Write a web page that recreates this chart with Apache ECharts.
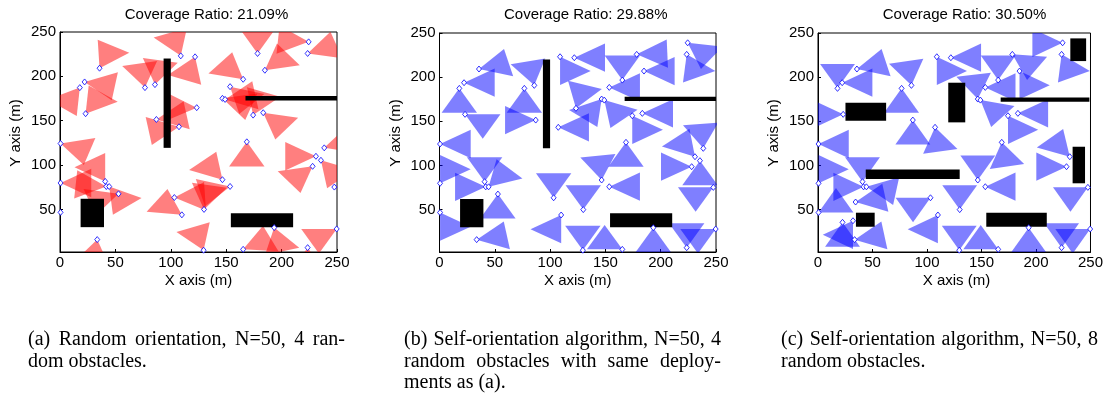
<!DOCTYPE html>
<html>
<head>
<meta charset="utf-8">
<script src="https://cdn.jsdelivr.net/npm/echarts@6/dist/echarts.min.js"></script>
<style>
html, body { margin: 0; padding: 0; background: #fff; }
#main { width: 1106px; height: 396px; }
</style>
</head>
<body>
<div id="main"></div>
<script>
// sensor deployment shared by (a) and (b), metres
var sensorX = [35.7, 22.2, 17.9, 23.1, 76.7, 85.7, 87.0, 107.4, 0.5, 40.8,
               41.8, 44.4, 0.5, 0.5, 33.6, 52.8, 103.2, 110.0, 109.0, 121.9,
               123.4, 165.3, 178.3, 184.9, 224.4, 223.5, 153.5, 146.6, 149.0, 174.3,
               183.4, 168.6, 146.6, 153.5, 130.0, 238.5, 231.0, 235.5, 228.0, 247.6,
               193.3, 165.3, 129.6, 223.5, 249.7];
var sensorY = [209.2, 193.7, 187.3, 157.9, 187.3, 190.7, 151.4, 143.2, 124.3, 81.6,
               75.8, 75.8, 79.8, 46.7, 16.0, 67.6, 63.4, 43.9, 223.1, 222.0,
               164.7, 196.7, 225.8, 206.9, 238.9, 225.8, 188.4, 175.2, 174.0, 156.3,
               159.0, 126.2, 83.5, 75.9, 50.0, 119.4, 109.9, 105.4, 98.6, 75.2,
               29.5, 5.0, 4.0, 6.9, 28.0];
// orientation (deg) in (a) random, (b) self-orientation
var angleA = [63, -10, -125, 55, 100, 80, 10, -170, -19, 120,
              175, -54, 0, 180, -100, -160, 3, 144, 110, -110,
              178, 138, 90, 40, 175, 20, -45, -20, 10, 70,
              -40, -90, 130, -165, 80, 20, 180, -50, -140, 0,
              -75, 26, 110, -90, -150];
var angleB = [15, 0, -90, -30, -90, 102, 180, 0, 0, 90,
              180, 47, 60, -60, 10, -90, 90, -120, -60, 0,
              73, 90, 2, 0, -38, -66, 0, -127, -50, -60,
              0, -90, 97, 0, 90, 95, 129, -90, 180, -150,
              -90, 150, 90, 90, -150];

// deployment (c), 8 obstacles
var sensorCX = [35.7, 22.2, 17.9, 23.1, 76.7, 85.7, 87.0, 107.4, 0.5, 40.8,
                41.8, 44.4, 0.5, 0.5, 33.6, 103.2, 110.0, 109.0, 121.9, 165.3,
                178.3, 184.9, 224.4, 223.5, 153.5, 146.6, 149.0, 174.3, 183.4, 168.6,
                146.6, 153.5, 130.0, 231.0, 228.0, 247.6, 193.3, 165.3, 129.6, 223.5,
                249.7, 34.5, 32.1, 22.5];
var sensorCY = [209.2, 193.7, 187.3, 157.9, 187.3, 190.7, 151.4, 143.2, 124.3, 81.6,
                75.8, 75.8, 79.8, 46.7, 16.0, 63.4, 43.9, 223.1, 222.0, 196.7,
                225.8, 206.9, 238.9, 225.8, 188.4, 175.2, 174.0, 156.3, 159.0, 126.2,
                83.5, 75.9, 50.0, 109.9, 98.6, 75.2, 29.5, 5.0, 4.0, 6.9,
                28.0, 58.6, 37.4, 35.6];
var angleC = [15, 0, 90, 180, -90, 100, -90, -80, 0, 90,
              180, -10, 60, 30, 10, -150, -120, -60, 0, 90,
              -35, -60, 180, -66, 0, 98, -42, -60, 0, -80,
              90, 0, 90, 131, 180, -150, -90, 150, 90, 90,
              -150, 10, -120, -90];

// obstacles [x0, y0, x1, y1]
var obstaclesAB = [[93.5, 119.4, 100, 220.1], [167.4, 172.9, 250, 177.8],
                   [18.6, 30, 39.7, 62], [154.2, 30, 210.4, 45.8]];
var obstaclesC = [[231.5, 218.2, 246, 243.9], [25.2, 150.6, 62.5, 171],
                  [119.5, 148.8, 135.1, 193.7], [167.6, 172.1, 249, 177],
                  [233.6, 79.8, 245, 121.2], [43.8, 84.6, 130, 95.5],
                  [34.8, 30.6, 52, 46.5], [154.4, 30.6, 209.9, 46.5]];

var titles = ['Coverage Ratio: 21.09%', 'Coverage Ratio: 29.88%', 'Coverage Ratio: 30.50%'];
var xTicks = [0, 50, 100, 150, 200, 250];
var yTicks = [50, 100, 150, 200, 250];
var captions = [
    ['(a) Random orientation, N=50, 4 ran-', 'dom obstacles.'],
    ['(b) Self-orientation algorithm, N=50, 4', 'random obstacles with same deploy-', 'ments as (a).'],
    ['(c) Self-orientation algorithm, N=50, 8', 'random obstacles.']
];

var RANGE = 32;              // sensing radius
var HALF = Math.PI / 6;      // half of field of view

var grids = [
    {left: 60, top: 32, width: 277, height: 220},
    {left: 439.5, top: 33, width: 276.5, height: 219},
    {left: 818, top: 33, width: 277, height: 219}
];
var labelFont = 'Liberation Sans, Arial, sans-serif';

var myChart = echarts.init(document.getElementById('main'));

function sensorSeries(i, xs, ys, angles, color) {
    return {
        type: 'custom',
        xAxisIndex: i,
        yAxisIndex: i,
        clip: true,
        z: 1,
        data: xs.map(function (x, k) { return [x, ys[k], angles[k]]; }),
        renderItem: function (params, api) {
            var x = api.value(0), y = api.value(1);
            var a = api.value(2) * Math.PI / 180;
            var p0 = api.coord([x, y]);
            var p1 = api.coord([x + RANGE * Math.cos(a - HALF), y + RANGE * Math.sin(a - HALF)]);
            var p2 = api.coord([x + RANGE * Math.cos(a + HALF), y + RANGE * Math.sin(a + HALF)]);
            return {
                type: 'polygon',
                shape: {points: [p0, p1, p2]},
                style: {fill: color}
            };
        }
    };
}

function obstacleSeries(i, list) {
    return {
        type: 'custom',
        xAxisIndex: i,
        yAxisIndex: i,
        clip: true,
        z: 2,
        data: list,
        renderItem: function (params, api) {
            var a = api.coord([api.value(0), api.value(3)]);
            var b = api.coord([api.value(2), api.value(1)]);
            return {
                type: 'rect',
                shape: {x: a[0], y: a[1], width: b[0] - a[0], height: b[1] - a[1]},
                style: {fill: '#000'}
            };
        }
    };
}

function markerSeries(i, xs, ys) {
    return {
        type: 'scatter',
        xAxisIndex: i,
        yAxisIndex: i,
        z: 3,
        symbol: 'diamond',
        symbolSize: [5, 6],
        itemStyle: {color: '#fff', borderColor: '#0000ff', borderWidth: 0.8, opacity: 1},
        data: xs.map(function (x, k) { return [x, ys[k]]; })
    };
}

var xAxes = [], yAxes = [];
grids.forEach(function (g, i) {
    xAxes.push({
        gridIndex: i, type: 'value', min: 0, max: 250, interval: 50,
        axisLine: {show: true, onZero: false, lineStyle: {color: '#000', width: 1}},
        axisTick: {show: true, inside: true, length: 3, lineStyle: {color: '#000'}},
        axisLabel: {color: '#000', fontSize: 15, fontFamily: labelFont, margin: 3,
                    customValues: xTicks},
        splitLine: {show: false}
    });
    yAxes.push({
        gridIndex: i, type: 'value', min: 2, max: 250,
        axisLine: {show: true, onZero: false, lineStyle: {color: '#000', width: 1}},
        axisTick: {show: true, inside: true, length: 3, lineStyle: {color: '#000'},
                   customValues: yTicks},
        axisLabel: {color: '#000', fontSize: 15, fontFamily: labelFont, margin: 4,
                    customValues: yTicks},
        splitLine: {show: false}
    });
});

var graphics = [];
grids.forEach(function (g, i) {
    graphics.push({
        type: 'text', x: g.left + g.width / 2 + 8, y: 15,
        style: {text: titles[i], font: '15px ' + labelFont, fill: '#000',
                textAlign: 'center', textVerticalAlign: 'middle'}
    });
    graphics.push({
        type: 'text', x: g.left + g.width / 2, y: 281,
        style: {text: 'X axis (m)', font: '15px ' + labelFont, fill: '#000',
                textAlign: 'center', textVerticalAlign: 'middle'}
    });
    graphics.push({
        type: 'text', x: g.left - 44, y: 133, rotation: Math.PI / 2,
        style: {text: 'Y axis (m)', font: '15px ' + labelFont, fill: '#000',
                textAlign: 'center', textVerticalAlign: 'middle'}
    });
});

// captions, justified like the paper
var capFont = '20px "Liberation Serif", "Times New Roman", serif';
var capLeft = [28, 404, 781];
var capWidth = [317, 317, 317];
var capY = [340, 361.5, 383];
var ctx = document.createElement('canvas').getContext('2d');
ctx.font = capFont;
var spaceW = ctx.measureText(' ').width;
captions.forEach(function (lines, c) {
    lines.forEach(function (line, li) {
        var words = line.split(' ');
        var widths = words.map(function (w) { return ctx.measureText(w).width; });
        var total = widths.reduce(function (s, w) { return s + w; }, 0);
        var last = li === lines.length - 1;
        var gap = (!last && words.length > 1) ? (capWidth[c] - total) / (words.length - 1) : spaceW;
        var x = capLeft[c];
        words.forEach(function (w, k) {
            graphics.push({
                type: 'text', x: x, y: capY[li],
                style: {text: w, font: capFont, fill: '#000',
                        textAlign: 'left', textVerticalAlign: 'middle'}
            });
            x += widths[k] + gap;
        });
    });
});

var option = {
    animation: false,
    grid: grids.map(function (g) {
        return {left: g.left, top: g.top, width: g.width, height: g.height,
                show: true, borderColor: '#000', borderWidth: 1, backgroundColor: '#fff'};
    }),
    xAxis: xAxes,
    yAxis: yAxes,
    graphic: graphics,
    series: [
        sensorSeries(0, sensorX, sensorY, angleA, 'rgba(255,0,0,0.5)'),
        obstacleSeries(0, obstaclesAB),
        markerSeries(0, sensorX, sensorY),
        sensorSeries(1, sensorX, sensorY, angleB, 'rgba(0,0,255,0.5)'),
        obstacleSeries(1, obstaclesAB),
        markerSeries(1, sensorX, sensorY),
        sensorSeries(2, sensorCX, sensorCY, angleC, 'rgba(0,0,255,0.5)'),
        obstacleSeries(2, obstaclesC),
        markerSeries(2, sensorCX, sensorCY)
    ]
};

myChart.setOption(option);
</script>
</body>
</html>
